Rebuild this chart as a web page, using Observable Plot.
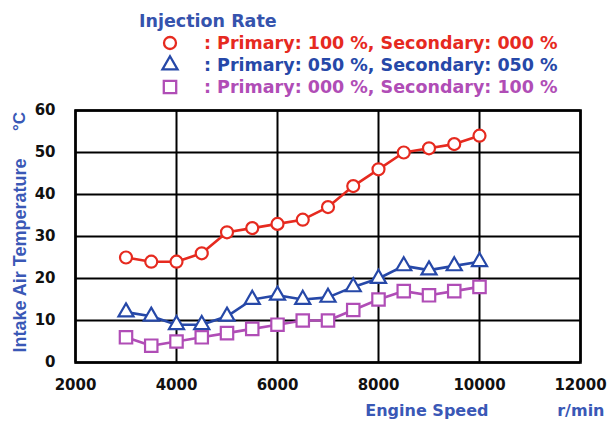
<!DOCTYPE html>
<html>
<head>
<meta charset="utf-8">
<script src="https://cdn.jsdelivr.net/npm/d3@7"></script>
<script src="https://cdn.jsdelivr.net/npm/@observablehq/plot@0.6"></script>
<style>
  html, body { margin: 0; padding: 0; background: #fff; }
  #chart { width: 609px; height: 421px; position: relative; }
  svg { display: block; }
</style>
</head>
<body>
<div id="chart"></div>
<script>
// Engine speed (r/min) at each measured point
const rpm = [3000, 3500, 4000, 4500, 5000, 5500, 6000, 6500, 7000, 7500, 8000, 8500, 9000, 9500, 10000];

// Intake air temperature (°C) for each injection split
const tempPrimary100 = [25, 24, 24, 26, 31, 32, 33, 34, 37, 42, 46, 50, 51, 52, 54];
const tempSplit50 = [12, 11, 9, 9, 11, 15, 16, 15, 15.5, 18, 20, 23, 22, 23, 24];
const tempSecondary100 = [6, 4, 5, 6, 7, 8, 9, 10, 10, 12.5, 15, 17, 16, 17, 18];

const seriesLabels = [
  ": Primary: 100 %, Secondary: 000 %",
  ": Primary: 050 %, Secondary: 050 %",
  ": Primary: 000 %, Secondary: 100 %"
];
const legendTitle = "Injection Rate";
const xTicks = [2000, 4000, 6000, 8000, 10000, 12000];
const yTicks = [0, 10, 20, 30, 40, 50, 60];

const colors = ["#e62a1f", "#2648a8", "#b04db6"];
const symbols = ["circle", "triangle", "square"];
const dotRadius = [6, 5.6, 7];
const d3Symbols = [d3.symbolCircle, d3.symbolTriangle, d3.symbolSquare];
const seriesValues = [tempPrimary100, tempSplit50, tempSecondary100];

const series = seriesValues.map((vals, i) => ({
  label: seriesLabels[i],
  color: colors[i],
  symbol: symbols[i],
  r: dotRadius[i],
  rows: rpm.map((x, j) => ({x, y: vals[j]}))
}));

const chart = document.getElementById("chart");
const font = "'DejaVu Sans', sans-serif";

// Legend block above the plot
const legend = d3.create("svg").attr("width", 609).attr("height", 100)
  .style("font-family", font).style("font-weight", "bold");
legend.append("text").attr("x", 139).attr("y", 26.5)
  .attr("fill", "#3553ad").style("font-size", "17.5px").text(legendTitle);
series.forEach((s, i) => {
  const cy = 43 + 22 * i;
  legend.append("path")
    .attr("transform", `translate(170,${cy})`)
    .attr("d", d3.symbol(d3Symbols[i], Math.PI * s.r * s.r)())
    .attr("fill", "white").attr("stroke", s.color).attr("stroke-width", 2.3);
  legend.append("text").attr("x", 204).attr("y", cy + 6.3)
    .attr("fill", s.color).style("font-size", "17.5px").text(s.label);
});
chart.appendChild(legend.node());

const blue = "#3a58b6";

const plot = Plot.plot({
  width: 609,
  height: 321,
  marginTop: 10,
  marginBottom: 59,
  marginLeft: 75,
  marginRight: 29,
  x: {domain: [2000, 12000]},
  y: {domain: [0, 60]},
  style: {fontFamily: font, fontWeight: "bold", fontSize: "15px", color: "#111", background: "white", overflow: "visible"},
  marks: [
    Plot.gridX(xTicks, {stroke: "#000", strokeOpacity: 1, strokeWidth: 2}),
    Plot.gridY(yTicks, {stroke: "#000", strokeOpacity: 1, strokeWidth: 2}),
    Plot.frame({stroke: "#000", strokeWidth: 2.6}),
    Plot.axisX(xTicks, {tickSize: 0, tickPadding: 17, label: null, tickFormat: d => `${d}`}),
    Plot.axisY(yTicks, {tickSize: 0, tickPadding: 20, label: null, tickFormat: d => `${d}`}),
    ...series.map(s => Plot.line(s.rows, {x: "x", y: "y", stroke: s.color, strokeWidth: 2.6})),
    ...series.map(s => Plot.dot(s.rows, {x: "x", y: "y", symbol: () => s.symbol, r: s.r, fill: "white", stroke: s.color, strokeWidth: 2.2})),
    Plot.text(["Engine Speed"], {text: d => d, frameAnchor: "bottom-right", textAnchor: "end", lineAnchor: "middle", dx: -92, dy: 48, fill: blue, fontSize: 16}),
    Plot.text(["r/min"], {text: d => d, frameAnchor: "bottom-right", textAnchor: "end", lineAnchor: "middle", dx: 24, dy: 48, fill: blue, fontSize: 16}),
    Plot.text(["Intake Air Temperature"], {text: d => d, frameAnchor: "left", textAnchor: "middle", lineAnchor: "middle", rotate: -90, dx: -55.5, dy: 19, fill: blue, fontSize: 18, fontFamily: "'Liberation Sans', Arial, sans-serif"}),
    Plot.text(["°C"], {text: d => d, frameAnchor: "top-left", textAnchor: "middle", lineAnchor: "middle", rotate: -90, dx: -55.5, dy: 11, fill: blue, fontSize: 17, fontFamily: "'Liberation Sans', Arial, sans-serif"})
  ]
});
chart.appendChild(plot);
</script>
</body>
</html>
